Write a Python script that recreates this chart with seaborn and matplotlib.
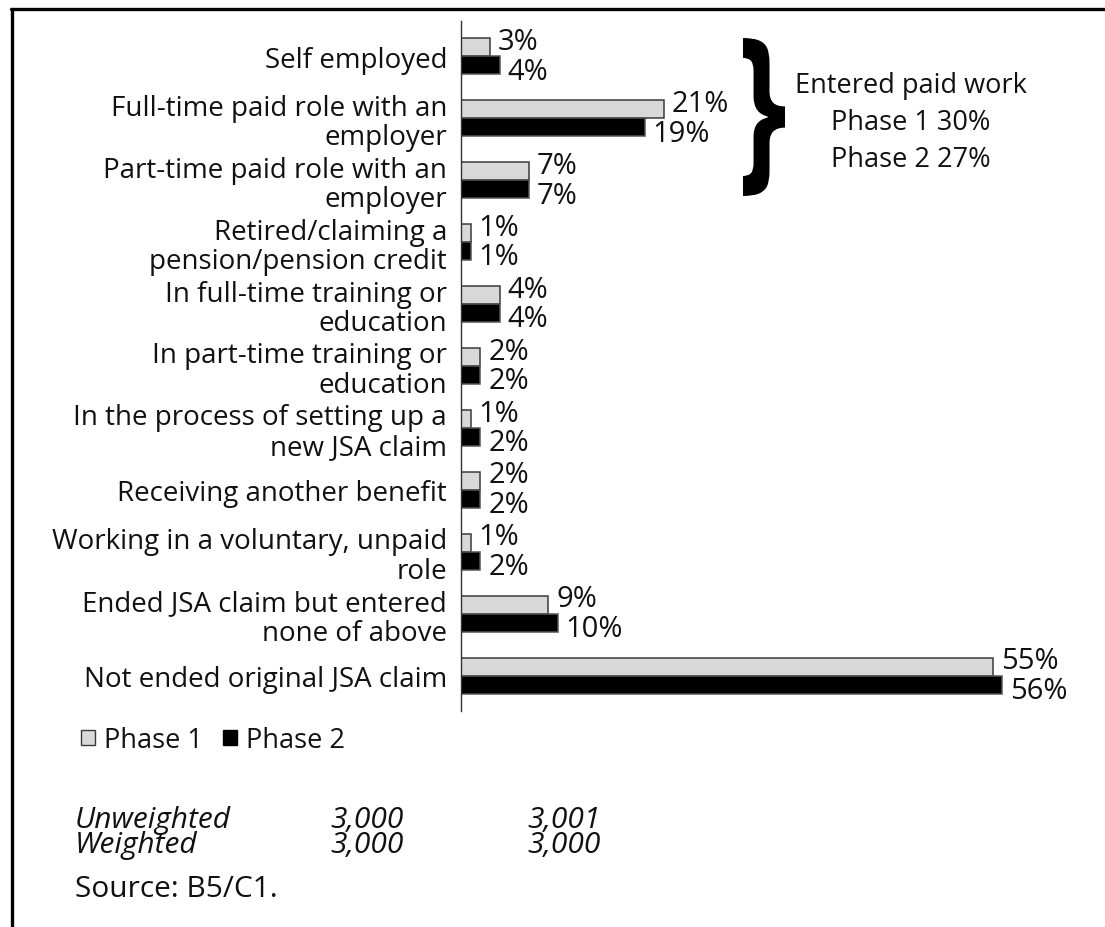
import matplotlib
matplotlib.use("Agg")
import matplotlib.pyplot as plt
import seaborn as sns
import pandas as pd
import numpy as np
from matplotlib.textpath import TextPath
from matplotlib.patches import PathPatch
from matplotlib.font_manager import FontProperties
from matplotlib.transforms import Affine2D, IdentityTransform
from matplotlib.lines import Line2D

categories = [
    "Self employed",
    "Full-time paid role with an\nemployer",
    "Part-time paid role with an\nemployer",
    "Retired/claiming a\npension/pension credit",
    "In full-time training or\neducation",
    "In part-time training or\neducation",
    "In the process of setting up a\nnew JSA claim",
    "Receiving another benefit",
    "Working in a voluntary, unpaid\nrole",
    "Ended JSA claim but entered\nnone of above",
    "Not ended original JSA claim",
]
phase1 = [3, 21, 7, 1, 4, 2, 1, 2, 1, 9, 55]
phase2 = [4, 19, 7, 1, 4, 2, 2, 2, 2, 10, 56]
series_names = ["Phase 1", "Phase 2"]
bracket_lines = ["Entered paid work", "Phase 1 30%", "Phase 2 27%"]
base_rows = ["Unweighted", "Weighted"]
base_phase1 = ["3,000", "3,000"]
base_phase2 = ["3,001", "3,000"]
source_text = "Source: B5/C1."

FONT = "Open Sans"
FS_CAT = 20
FS_VAL = 21
FS_BR = 19.5
FS_LEG = 19.5
FS_FOOT = 21.5
TXT = "#111111"
W, H = 1105, 928

sns.set_theme(style="white")
plt.rcParams["font.family"] = [FONT, "DejaVu Sans"]

df = pd.DataFrame({
    "category": categories * 2,
    "value": phase1 + phase2,
    "phase": [series_names[0]] * len(categories) + [series_names[1]] * len(categories),
})

fig = plt.figure(figsize=(W / 100, H / 100), dpi=100)
ax = fig.add_axes([461 / W, 1 - 712 / H, (1099 - 461) / W, (712 - 22) / H])

sns.barplot(data=df, y="category", x="value", hue="phase", orient="h",
            palette=["#d9d9d9", "#000000"], width=0.58, ax=ax,
            order=categories, hue_order=series_names, legend=False)

edge_cols = ["#3a3a3a", "#555555"]
for cont, ec in zip(ax.containers, edge_cols):
    for p in cont:
        p.set_edgecolor(ec)
        p.set_linewidth(1.1)

ax.set_xlim(0, 66)
ax.set_ylim(len(categories) - 0.435, -0.565)
ax.set_xlabel("")
ax.set_ylabel("")
ax.set_xticks([])
ax.tick_params(axis="y", length=0, pad=10, labelsize=FS_CAT, labelcolor=TXT)
for lbl in ax.get_yticklabels():
    lbl.set_fontfamily([FONT, "DejaVu Sans"])
    lbl.set_linespacing(1.07)
for s in ["top", "right", "bottom"]:
    ax.spines[s].set_visible(False)
ax.spines["left"].set_color("#333333")
ax.spines["left"].set_linewidth(1.0)

# value labels (gray one nudged up, black one nudged down)
dy_px = [-6, 6]
for ci, (cont, vals) in enumerate(zip(ax.containers, [phase1, phase2])):
    for p, v in zip(cont, vals):
        yc = p.get_y() + p.get_height() / 2
        ax.annotate(f"{v}%", xy=(p.get_width(), yc), xytext=(8 * 0.72, -dy_px[ci] * 0.72),
                    textcoords="offset points", ha="left", va="center", fontsize=FS_VAL,
                    color=TXT, annotation_clip=False)

# brace as stretched glyph
tp = TextPath((0, 0), "}", size=100, prop=FontProperties(family=FONT, weight="bold"))
ext = tp.get_extents()
bx0, bx1, by0, by1 = 743, 785, H - 197, H - 39
tr = (Affine2D().translate(-ext.x0, -ext.y0)
      .scale((bx1 - bx0) / ext.width, (by1 - by0) / ext.height)
      .translate(bx0, by0))
brace = PathPatch(tr.transform_path(tp), facecolor="black", edgecolor="none",
                  transform=IdentityTransform())
fig.patches.append(brace)

for txt, yb in zip(bracket_lines, [93, 130, 167]):
    fig.text(911 / W, 1 - yb / H, txt, ha="center", va="baseline", fontsize=FS_BR, color=TXT)

# legend
handles = [
    plt.Rectangle((0, 0), 1, 1, facecolor="#d9d9d9", edgecolor="#3a3a3a", linewidth=1.0),
    plt.Rectangle((0, 0), 1, 1, facecolor="#000000", edgecolor="#000000", linewidth=1.0),
]
leg = fig.legend(handles, series_names, loc="center left", bbox_to_anchor=(81 / W, 1 - 741 / H),
                 ncol=2, frameon=False, fontsize=FS_LEG, handlelength=0.5, handleheight=0.5,
                 handletextpad=0.35, columnspacing=0.75, borderaxespad=0, borderpad=0)
for t in leg.get_texts():
    t.set_color(TXT)

# base sizes (one multi-line text per column; anchored on last baseline)
y_last_base = 853
for xpx, col in [(75, base_rows), (330, base_phase1), (527, base_phase2)]:
    fig.text(xpx / W, 1 - y_last_base / H, "\n".join(col), ha="left", va="baseline",
             fontsize=FS_FOOT, style="italic", color=TXT, linespacing=0.8, multialignment="left")
fig.text(75 / W, 1 - 897 / H, source_text, ha="left", va="baseline", fontsize=FS_FOOT, color=TXT)

# frame lines (top and left)
fig.add_artist(Line2D([11 / W, 1.0], [1 - 10 / H, 1 - 10 / H], transform=fig.transFigure, color="black", lw=2.4))
fig.add_artist(Line2D([12 / W, 12 / W], [0, 1 - 10 / H], transform=fig.transFigure, color="black", lw=2.4))

fig.savefig("out.png", dpi=100)
